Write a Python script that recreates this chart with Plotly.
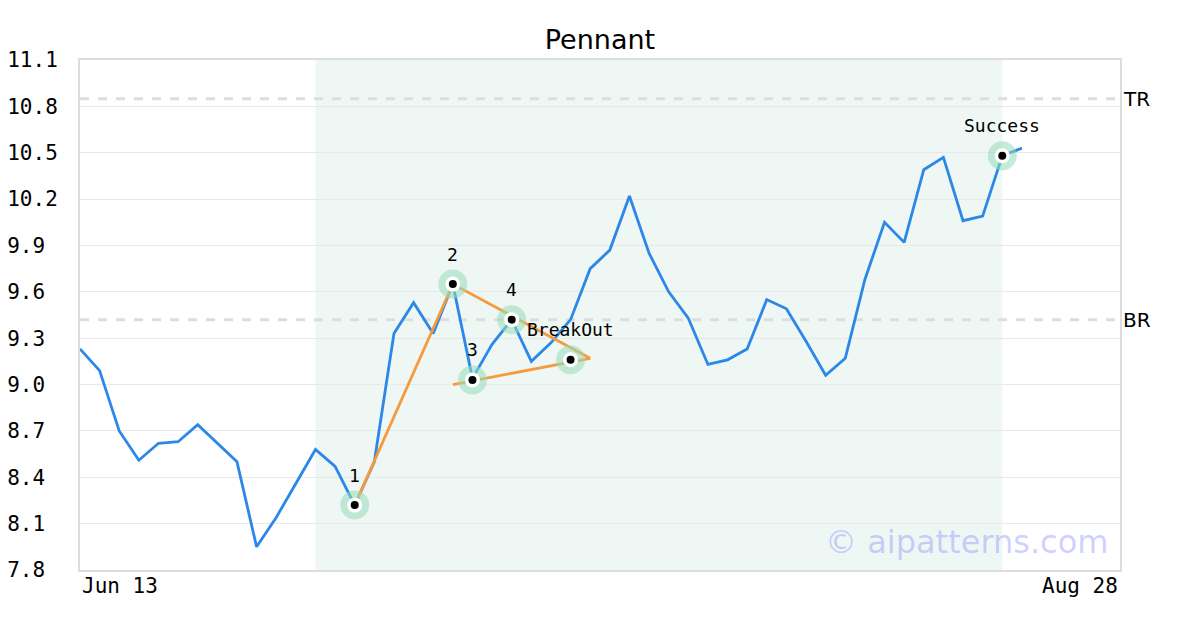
import plotly.graph_objects as go

# ---------------- data ----------------
prices = [9.23, 9.09, 8.70, 8.51, 8.62, 8.63, 8.74, 8.62, 8.50, 7.95,
          8.14, 8.36, 8.58, 8.47, 8.22, 8.50, 9.33, 9.53, 9.33, 9.65,
          9.04, 9.26, 9.42, 9.15, 9.27, 9.42, 9.75, 9.87, 10.22, 9.85,
          9.60, 9.43, 9.13, 9.16, 9.23, 9.55, 9.49, 9.28, 9.06, 9.17,
          9.68, 10.05, 9.92, 10.39, 10.47, 10.06, 10.09, 10.48, 10.53]
idx = list(range(len(prices)))

point_idx = [14, 19, 20, 22, 25, 47]
point_val = [8.22, 9.65, 9.03, 9.42, 9.16, 10.48]
point_lbl = ["1", "2", "3", "4", "BreakOut", "Success"]

upper_x = [14, 19, 26]
upper_y = [8.22, 9.65, 9.17]
lower_x = [19, 26]
lower_y = [9.00, 9.17]

tr_level = 10.85
br_level = 9.42
shade_start, shade_end = 12, 47
x_max = 53
date_labels = ["Jun 13", "Aug 28"]
y_min, y_max, y_step = 7.8, 11.1, 0.3

MONO = "DejaVu Sans Mono"
SANS = "DejaVu Sans"

fig = go.Figure()

fig.add_trace(go.Scatter(x=idx, y=prices, mode="lines",
                         line=dict(color="#2b87e8", width=2.8),
                         hoverinfo="skip", showlegend=False))
fig.add_trace(go.Scatter(x=upper_x + [None] + lower_x,
                         y=upper_y + [None] + lower_y, mode="lines",
                         line=dict(color="#f59a3e", width=2.8),
                         hoverinfo="skip", showlegend=False))
# markers: halo, white ring, black dot
fig.add_trace(go.Scatter(x=point_idx, y=point_val, mode="markers",
                         marker=dict(size=29, color="rgba(150,220,185,0.55)", line=dict(width=0)),
                         hoverinfo="skip", showlegend=False))
fig.add_trace(go.Scatter(x=point_idx, y=point_val, mode="markers",
                         marker=dict(size=15, color="white", line=dict(width=0)),
                         hoverinfo="skip", showlegend=False))
fig.add_trace(go.Scatter(x=point_idx, y=point_val, mode="markers",
                         marker=dict(size=8, color="black", line=dict(width=0)),
                         hoverinfo="skip", showlegend=False))

annotations = []
for xi, yi, t in zip(point_idx, point_val, point_lbl):
    annotations.append(dict(x=xi, y=yi, text=t, showarrow=False, yshift=30,
                            font=dict(family=MONO, size=18, color="black")))
for lvl, t in [(tr_level, "TR"), (br_level, "BR")]:
    annotations.append(dict(x=1, xref="paper", y=lvl, text=t, showarrow=False,
                            xanchor="left", xshift=1,
                            font=dict(family=SANS, size=20, color="black")))
annotations.append(dict(x=0, xref="paper", y=0, yref="paper", text=date_labels[0],
                        showarrow=False, xanchor="left", yanchor="top", yshift=-2,
                        font=dict(family=MONO, size=21, color="black")))
annotations.append(dict(x=1, xref="paper", y=0, yref="paper", text=date_labels[1],
                        showarrow=False, xanchor="right", yanchor="top", yshift=-2,
                        font=dict(family=MONO, size=21, color="black")))
annotations.append(dict(x=0.990, xref="paper", y=0.055, yref="paper",
                        text="© aipatterns.com", showarrow=False,
                        xanchor="right", yanchor="middle",
                        font=dict(family=SANS, size=32, color="rgba(120,120,255,0.35)")))

shapes = [
    dict(type="rect", xref="x", yref="paper", x0=shade_start, x1=shade_end, y0=0, y1=1,
         fillcolor="#eff7f4", line=dict(width=0), layer="below"),
    dict(type="line", xref="paper", yref="y", x0=0, x1=1, y0=tr_level, y1=tr_level,
         line=dict(color="#dddddd", width=3, dash="dash"), layer="below"),
    dict(type="line", xref="paper", yref="y", x0=0, x1=1, y0=br_level, y1=br_level,
         line=dict(color="#dddddd", width=3, dash="dash"), layer="below"),
]

ticks = [round(y_min + i * y_step, 1) for i in range(int(round((y_max - y_min) / y_step)) + 1)]
# left-aligned labels in a monospace font: pad short ones with no-break spaces
tick_text = [f"{t:.1f}".ljust(4, "\u00a0") for t in ticks]

fig.update_layout(
    width=1200, height=630,
    margin=dict(l=80, r=80, t=60, b=60, autoexpand=False),
    paper_bgcolor="white", plot_bgcolor="white",
    title=dict(text="Pennant", x=0.5, xanchor="center", y=1 - 40 / 630, yanchor="middle",
               font=dict(family=SANS, size=27, color="black")),
    xaxis=dict(range=[0, x_max], showgrid=False, showticklabels=False, zeroline=False,
               showline=True, mirror=True, linecolor="#dddddd", linewidth=2, ticks=""),
    yaxis=dict(range=[y_min, y_max], tickvals=ticks, ticktext=tick_text,
               showgrid=True, gridcolor="#e8e8e8", gridwidth=1, zeroline=False,
               showline=True, mirror=True, linecolor="#dddddd", linewidth=2,
               tickfont=dict(family=MONO, size=21, color="black"), ticks="", ticklen=0,
               ticklabelstandoff=16),
    shapes=shapes, annotations=annotations,
)

fig.write_html("out.html", config={"displayModeBar": False},
               post_script="document.body.style.margin='0';")
